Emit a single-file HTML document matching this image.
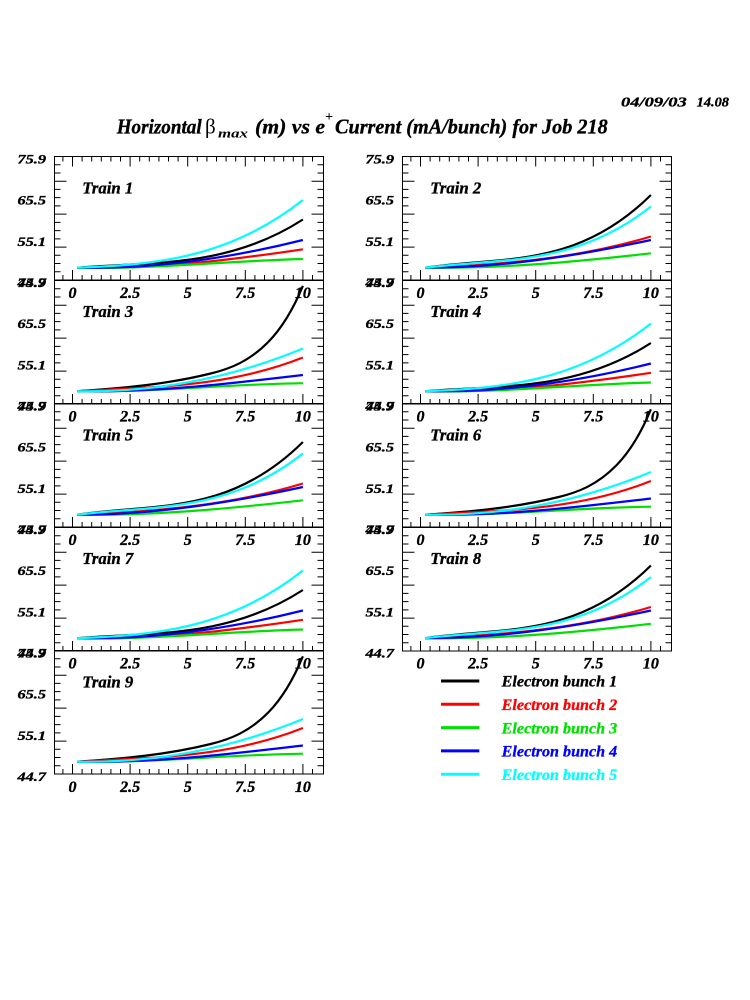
<!DOCTYPE html>
<html>
<head>
<meta charset="utf-8">
<style>
html,body{margin:0;padding:0;background:#fff;}
svg{display:block;}
text{font-family:"Liberation Serif",serif;font-weight:bold;font-style:italic;}
.hv{stroke:#000;stroke-width:0.35;}
</style>
</head>
<body>
<svg width="750" height="1000" viewBox="0 0 750 1000" xmlns="http://www.w3.org/2000/svg">
<rect width="750" height="1000" fill="#fff"/>
<defs>
<g id="ax" fill="none" stroke="#000" stroke-width="1">
<rect x="0" y="0" width="269" height="123.5"/>
<path d="M0,115.27h6M0,107.03h6M0,98.8h6M0,90.57h12M0,82.33h6M0,74.1h6M0,65.87h6M0,57.63h12M0,49.4h6M0,41.17h6M0,32.93h6M0,24.7h12M0,16.47h6M0,8.23h6"/>
<path d="M269,115.27h-6M269,107.03h-6M269,98.8h-6M269,90.57h-12M269,82.33h-6M269,74.1h-6M269,65.87h-6M269,57.63h-12M269,49.4h-6M269,41.17h-6M269,32.93h-6M269,24.7h-12M269,16.47h-6M269,8.23h-6"/>
<path d="M8.4,123.5v-5M18,123.5v-10M27.6,123.5v-5M37.2,123.5v-5M46.8,123.5v-5M56.4,123.5v-5M66,123.5v-5M75.6,123.5v-10M85.2,123.5v-5M94.8,123.5v-5M104.4,123.5v-5M114,123.5v-5M123.6,123.5v-5M133.2,123.5v-10M142.8,123.5v-5M152.4,123.5v-5M162,123.5v-5M171.6,123.5v-5M181.2,123.5v-5M190.8,123.5v-10M200.4,123.5v-5M210,123.5v-5M219.6,123.5v-5M229.2,123.5v-5M238.8,123.5v-5M248.4,123.5v-10M258,123.5v-5"/>
</g>
<path id="tt" fill="none" stroke="#000" stroke-width="1" d="M8.4,0v5M18,0v10M27.6,0v5M37.2,0v5M46.8,0v5M56.4,0v5M66,0v5M75.6,0v10M85.2,0v5M94.8,0v5M104.4,0v5M114,0v5M123.6,0v5M133.2,0v10M142.8,0v5M152.4,0v5M162,0v5M171.6,0v5M181.2,0v5M190.8,0v10M200.4,0v5M210,0v5M219.6,0v5M229.2,0v5M238.8,0v5M248.4,0v10M258,0v5"/>
<g id="cA" fill="none" stroke-width="2.2">
<path stroke="#000" d="M22.6,-12.3 C97.9,-18.57 173.1,-11.82 248.4,-60.5"/>
<path stroke="#ff0000" d="M22.6,-12.3 C97.9,-10.46 173.1,-19.48 248.4,-30.7"/>
<path stroke="#00e000" d="M22.6,-12.3 C97.9,-10.61 173.1,-19.09 248.4,-21"/>
<path stroke="#0000ff" d="M22.6,-12.3 C97.9,-10.75 173.1,-21.16 248.4,-40"/>
<path stroke="#00ffff" d="M22.6,-12.3 C97.9,-15.26 173.1,-20.64 248.4,-80"/>
</g>
<g id="cB" fill="none" stroke-width="2.2">
<path stroke="#000" d="M22.6,-12.3 C97.9,-23.93 173.1,-10.34 248.4,-85"/>
<path stroke="#ff0000" d="M22.6,-12.3 C97.9,-15.2 173.1,-20.88 248.4,-43.5"/>
<path stroke="#00e000" d="M22.6,-12.3 C97.9,-11.25 173.1,-18.15 248.4,-26.7"/>
<path stroke="#0000ff" d="M22.6,-12.3 C97.9,-12.11 173.1,-23.8 248.4,-40"/>
<path stroke="#00ffff" d="M22.6,-12.3 C97.9,-21.77 173.1,-13.6 248.4,-73.5"/>
</g>
<g id="cC" fill="none" stroke-width="2.2">
<path stroke="#000" d="M22.6,-12.3 C67.15,-15.2 111.7,-18.98 156.24,-30 C175.4,-34.75 194.6,-41.93 213.84,-61.6 C225.36,-73.4 236.88,-89.85 248.4,-117.7"/>
<path stroke="#ff0000" d="M22.6,-12.3 C97.9,-16.48 173.1,-16.07 248.4,-46"/>
<path stroke="#00e000" d="M22.6,-12.3 C97.9,-11.05 173.1,-19.41 248.4,-20.3"/>
<path stroke="#0000ff" d="M22.6,-12.3 C97.9,-10.8 173.1,-19.6 248.4,-28.5"/>
<path stroke="#00ffff" d="M22.6,-12.3 C97.9,-10.95 173.1,-23.9 248.4,-55"/>
</g>
</defs>

<!-- date -->
<text class="hv" x="621" y="106.7" font-size="14" textLength="65.7" lengthAdjust="spacingAndGlyphs">04/09/03</text>
<text class="hv" x="696.7" y="106.7" font-size="14" textLength="32.3" lengthAdjust="spacingAndGlyphs">14.08</text>

<!-- title -->
<text class="hv" x="116.7" y="133.3" font-size="21" textLength="85" lengthAdjust="spacingAndGlyphs">Horizontal</text>
<text x="205" y="133.3" font-size="21" style="font-style:normal;font-weight:normal">β</text>
<text x="218" y="137.5" font-size="13" textLength="30" lengthAdjust="spacingAndGlyphs">max</text>
<text class="hv" x="255" y="133.3" font-size="21" textLength="70" lengthAdjust="spacingAndGlyphs">(m) vs e</text>
<text x="325" y="121" font-size="14">+</text>
<text class="hv" x="335" y="133.3" font-size="21" textLength="272.7" lengthAdjust="spacingAndGlyphs">Current (mA/bunch) for Job 218</text>

<!-- frames -->
<use href="#ax" x="54.5" y="156.5"/>
<use href="#ax" x="402.5" y="156.5"/>
<use href="#tt" x="54.5" y="156.5"/>
<use href="#tt" x="402.5" y="156.5"/>
<use href="#ax" x="54.5" y="280.5"/>
<use href="#ax" x="402.5" y="280.5"/>
<use href="#ax" x="54.5" y="403.5"/>
<use href="#ax" x="402.5" y="403.5"/>
<use href="#ax" x="54.5" y="527.5"/>
<use href="#ax" x="402.5" y="527.5"/>
<use href="#ax" x="54.5" y="650.5"/>

<!-- curves -->
<use href="#cA" transform="translate(54.5,280)"/>
<use href="#cB" transform="translate(402.5,280)"/>
<use href="#cC" transform="translate(54.5,403.5)"/>
<use href="#cA" transform="translate(402.5,403.5)"/>
<use href="#cB" transform="translate(54.5,527)"/>
<use href="#cC" transform="translate(402.5,527)"/>
<use href="#cA" transform="translate(54.5,650.5)"/>
<use href="#cB" transform="translate(402.5,650.5)"/>
<use href="#cC" transform="translate(54.5,774)"/>

<!-- train labels -->
<g font-size="17" class="hv">
<text x="82.3" y="193.5" textLength="51" lengthAdjust="spacingAndGlyphs">Train 1</text>
<text x="430.3" y="193.5" textLength="51" lengthAdjust="spacingAndGlyphs">Train 2</text>
<text x="82.3" y="317" textLength="51" lengthAdjust="spacingAndGlyphs">Train 3</text>
<text x="430.3" y="317" textLength="51" lengthAdjust="spacingAndGlyphs">Train 4</text>
<text x="82.3" y="440.5" textLength="51" lengthAdjust="spacingAndGlyphs">Train 5</text>
<text x="430.3" y="440.5" textLength="51" lengthAdjust="spacingAndGlyphs">Train 6</text>
<text x="82.3" y="564" textLength="51" lengthAdjust="spacingAndGlyphs">Train 7</text>
<text x="430.3" y="564" textLength="51" lengthAdjust="spacingAndGlyphs">Train 8</text>
<text x="82.3" y="687.5" textLength="51" lengthAdjust="spacingAndGlyphs">Train 9</text>
</g>

<!-- y labels left column -->
<g font-size="13" class="hv">
<text x="17.5" y="163.5" textLength="28.5" lengthAdjust="spacingAndGlyphs">75.9</text>
<text x="17.5" y="204.7" textLength="28.5" lengthAdjust="spacingAndGlyphs">65.5</text>
<text x="17.5" y="245.8" textLength="28.5" lengthAdjust="spacingAndGlyphs">55.1</text>
<text x="17.5" y="287" textLength="28.5" lengthAdjust="spacingAndGlyphs">44.7</text>
<text x="17.5" y="287" textLength="28.5" lengthAdjust="spacingAndGlyphs">75.9</text>
<text x="17.5" y="328.2" textLength="28.5" lengthAdjust="spacingAndGlyphs">65.5</text>
<text x="17.5" y="369.3" textLength="28.5" lengthAdjust="spacingAndGlyphs">55.1</text>
<text x="17.5" y="410.5" textLength="28.5" lengthAdjust="spacingAndGlyphs">44.7</text>
<text x="17.5" y="410.5" textLength="28.5" lengthAdjust="spacingAndGlyphs">75.9</text>
<text x="17.5" y="451.7" textLength="28.5" lengthAdjust="spacingAndGlyphs">65.5</text>
<text x="17.5" y="492.8" textLength="28.5" lengthAdjust="spacingAndGlyphs">55.1</text>
<text x="17.5" y="534" textLength="28.5" lengthAdjust="spacingAndGlyphs">44.7</text>
<text x="17.5" y="534" textLength="28.5" lengthAdjust="spacingAndGlyphs">75.9</text>
<text x="17.5" y="575.2" textLength="28.5" lengthAdjust="spacingAndGlyphs">65.5</text>
<text x="17.5" y="616.3" textLength="28.5" lengthAdjust="spacingAndGlyphs">55.1</text>
<text x="17.5" y="657.5" textLength="28.5" lengthAdjust="spacingAndGlyphs">44.7</text>
<text x="17.5" y="657.5" textLength="28.5" lengthAdjust="spacingAndGlyphs">75.9</text>
<text x="17.5" y="698.7" textLength="28.5" lengthAdjust="spacingAndGlyphs">65.5</text>
<text x="17.5" y="739.8" textLength="28.5" lengthAdjust="spacingAndGlyphs">55.1</text>
<text x="17.5" y="781" textLength="28.5" lengthAdjust="spacingAndGlyphs">44.7</text>
</g>
<!-- y labels right column -->
<g font-size="13" class="hv">
<text x="365.5" y="163.5" textLength="28.5" lengthAdjust="spacingAndGlyphs">75.9</text>
<text x="365.5" y="204.7" textLength="28.5" lengthAdjust="spacingAndGlyphs">65.5</text>
<text x="365.5" y="245.8" textLength="28.5" lengthAdjust="spacingAndGlyphs">55.1</text>
<text x="365.5" y="287" textLength="28.5" lengthAdjust="spacingAndGlyphs">44.7</text>
<text x="365.5" y="287" textLength="28.5" lengthAdjust="spacingAndGlyphs">75.9</text>
<text x="365.5" y="328.2" textLength="28.5" lengthAdjust="spacingAndGlyphs">65.5</text>
<text x="365.5" y="369.3" textLength="28.5" lengthAdjust="spacingAndGlyphs">55.1</text>
<text x="365.5" y="410.5" textLength="28.5" lengthAdjust="spacingAndGlyphs">44.7</text>
<text x="365.5" y="410.5" textLength="28.5" lengthAdjust="spacingAndGlyphs">75.9</text>
<text x="365.5" y="451.7" textLength="28.5" lengthAdjust="spacingAndGlyphs">65.5</text>
<text x="365.5" y="492.8" textLength="28.5" lengthAdjust="spacingAndGlyphs">55.1</text>
<text x="365.5" y="534" textLength="28.5" lengthAdjust="spacingAndGlyphs">44.7</text>
<text x="365.5" y="534" textLength="28.5" lengthAdjust="spacingAndGlyphs">75.9</text>
<text x="365.5" y="575.2" textLength="28.5" lengthAdjust="spacingAndGlyphs">65.5</text>
<text x="365.5" y="616.3" textLength="28.5" lengthAdjust="spacingAndGlyphs">55.1</text>
<text x="365.5" y="657.5" textLength="28.5" lengthAdjust="spacingAndGlyphs">44.7</text>
</g>

<!-- x labels -->
<g font-size="16" text-anchor="middle" class="hv">
<text x="72.5" y="298">0</text><text x="130.1" y="298">2.5</text><text x="187.7" y="298">5</text><text x="245.3" y="298">7.5</text><text x="302.9" y="298">10</text>
<text x="420.5" y="298">0</text><text x="478.1" y="298">2.5</text><text x="535.7" y="298">5</text><text x="593.3" y="298">7.5</text><text x="650.9" y="298">10</text>
<text x="72.5" y="421.5">0</text><text x="130.1" y="421.5">2.5</text><text x="187.7" y="421.5">5</text><text x="245.3" y="421.5">7.5</text><text x="302.9" y="421.5">10</text>
<text x="420.5" y="421.5">0</text><text x="478.1" y="421.5">2.5</text><text x="535.7" y="421.5">5</text><text x="593.3" y="421.5">7.5</text><text x="650.9" y="421.5">10</text>
<text x="72.5" y="545">0</text><text x="130.1" y="545">2.5</text><text x="187.7" y="545">5</text><text x="245.3" y="545">7.5</text><text x="302.9" y="545">10</text>
<text x="420.5" y="545">0</text><text x="478.1" y="545">2.5</text><text x="535.7" y="545">5</text><text x="593.3" y="545">7.5</text><text x="650.9" y="545">10</text>
<text x="72.5" y="668.5">0</text><text x="130.1" y="668.5">2.5</text><text x="187.7" y="668.5">5</text><text x="245.3" y="668.5">7.5</text><text x="302.9" y="668.5">10</text>
<text x="420.5" y="668.5">0</text><text x="478.1" y="668.5">2.5</text><text x="535.7" y="668.5">5</text><text x="593.3" y="668.5">7.5</text><text x="650.9" y="668.5">10</text>
<text x="72.5" y="792">0</text><text x="130.1" y="792">2.5</text><text x="187.7" y="792">5</text><text x="245.3" y="792">7.5</text><text x="302.9" y="792">10</text>
</g>

<!-- legend -->
<g stroke-width="3">
<line x1="441" y1="681" x2="479.3" y2="681" stroke="#000"/>
<line x1="441" y1="704.3" x2="479.3" y2="704.3" stroke="#ff0000"/>
<line x1="441" y1="727.6" x2="479.3" y2="727.6" stroke="#00e000"/>
<line x1="441" y1="750.9" x2="479.3" y2="750.9" stroke="#0000ff"/>
<line x1="441" y1="774.2" x2="479.3" y2="774.2" stroke="#00ffff"/>
</g>
<g font-size="16">
<text x="501.7" y="686.7" fill="#000" stroke="#000" stroke-width="0.3" textLength="115.5" lengthAdjust="spacingAndGlyphs">Electron bunch 1</text>
<text x="501.7" y="710" fill="#ff0000" stroke="#ff0000" stroke-width="0.3" textLength="115.5" lengthAdjust="spacingAndGlyphs">Electron bunch 2</text>
<text x="501.7" y="733.3" fill="#00e000" stroke="#00e000" stroke-width="0.3" textLength="115.5" lengthAdjust="spacingAndGlyphs">Electron bunch 3</text>
<text x="501.7" y="756.6" fill="#0000ff" stroke="#0000ff" stroke-width="0.3" textLength="115.5" lengthAdjust="spacingAndGlyphs">Electron bunch 4</text>
<text x="501.7" y="779.9" fill="#00ffff" stroke="#00ffff" stroke-width="0.3" textLength="115.5" lengthAdjust="spacingAndGlyphs">Electron bunch 5</text>
</g>
</svg>
</body>
</html>
